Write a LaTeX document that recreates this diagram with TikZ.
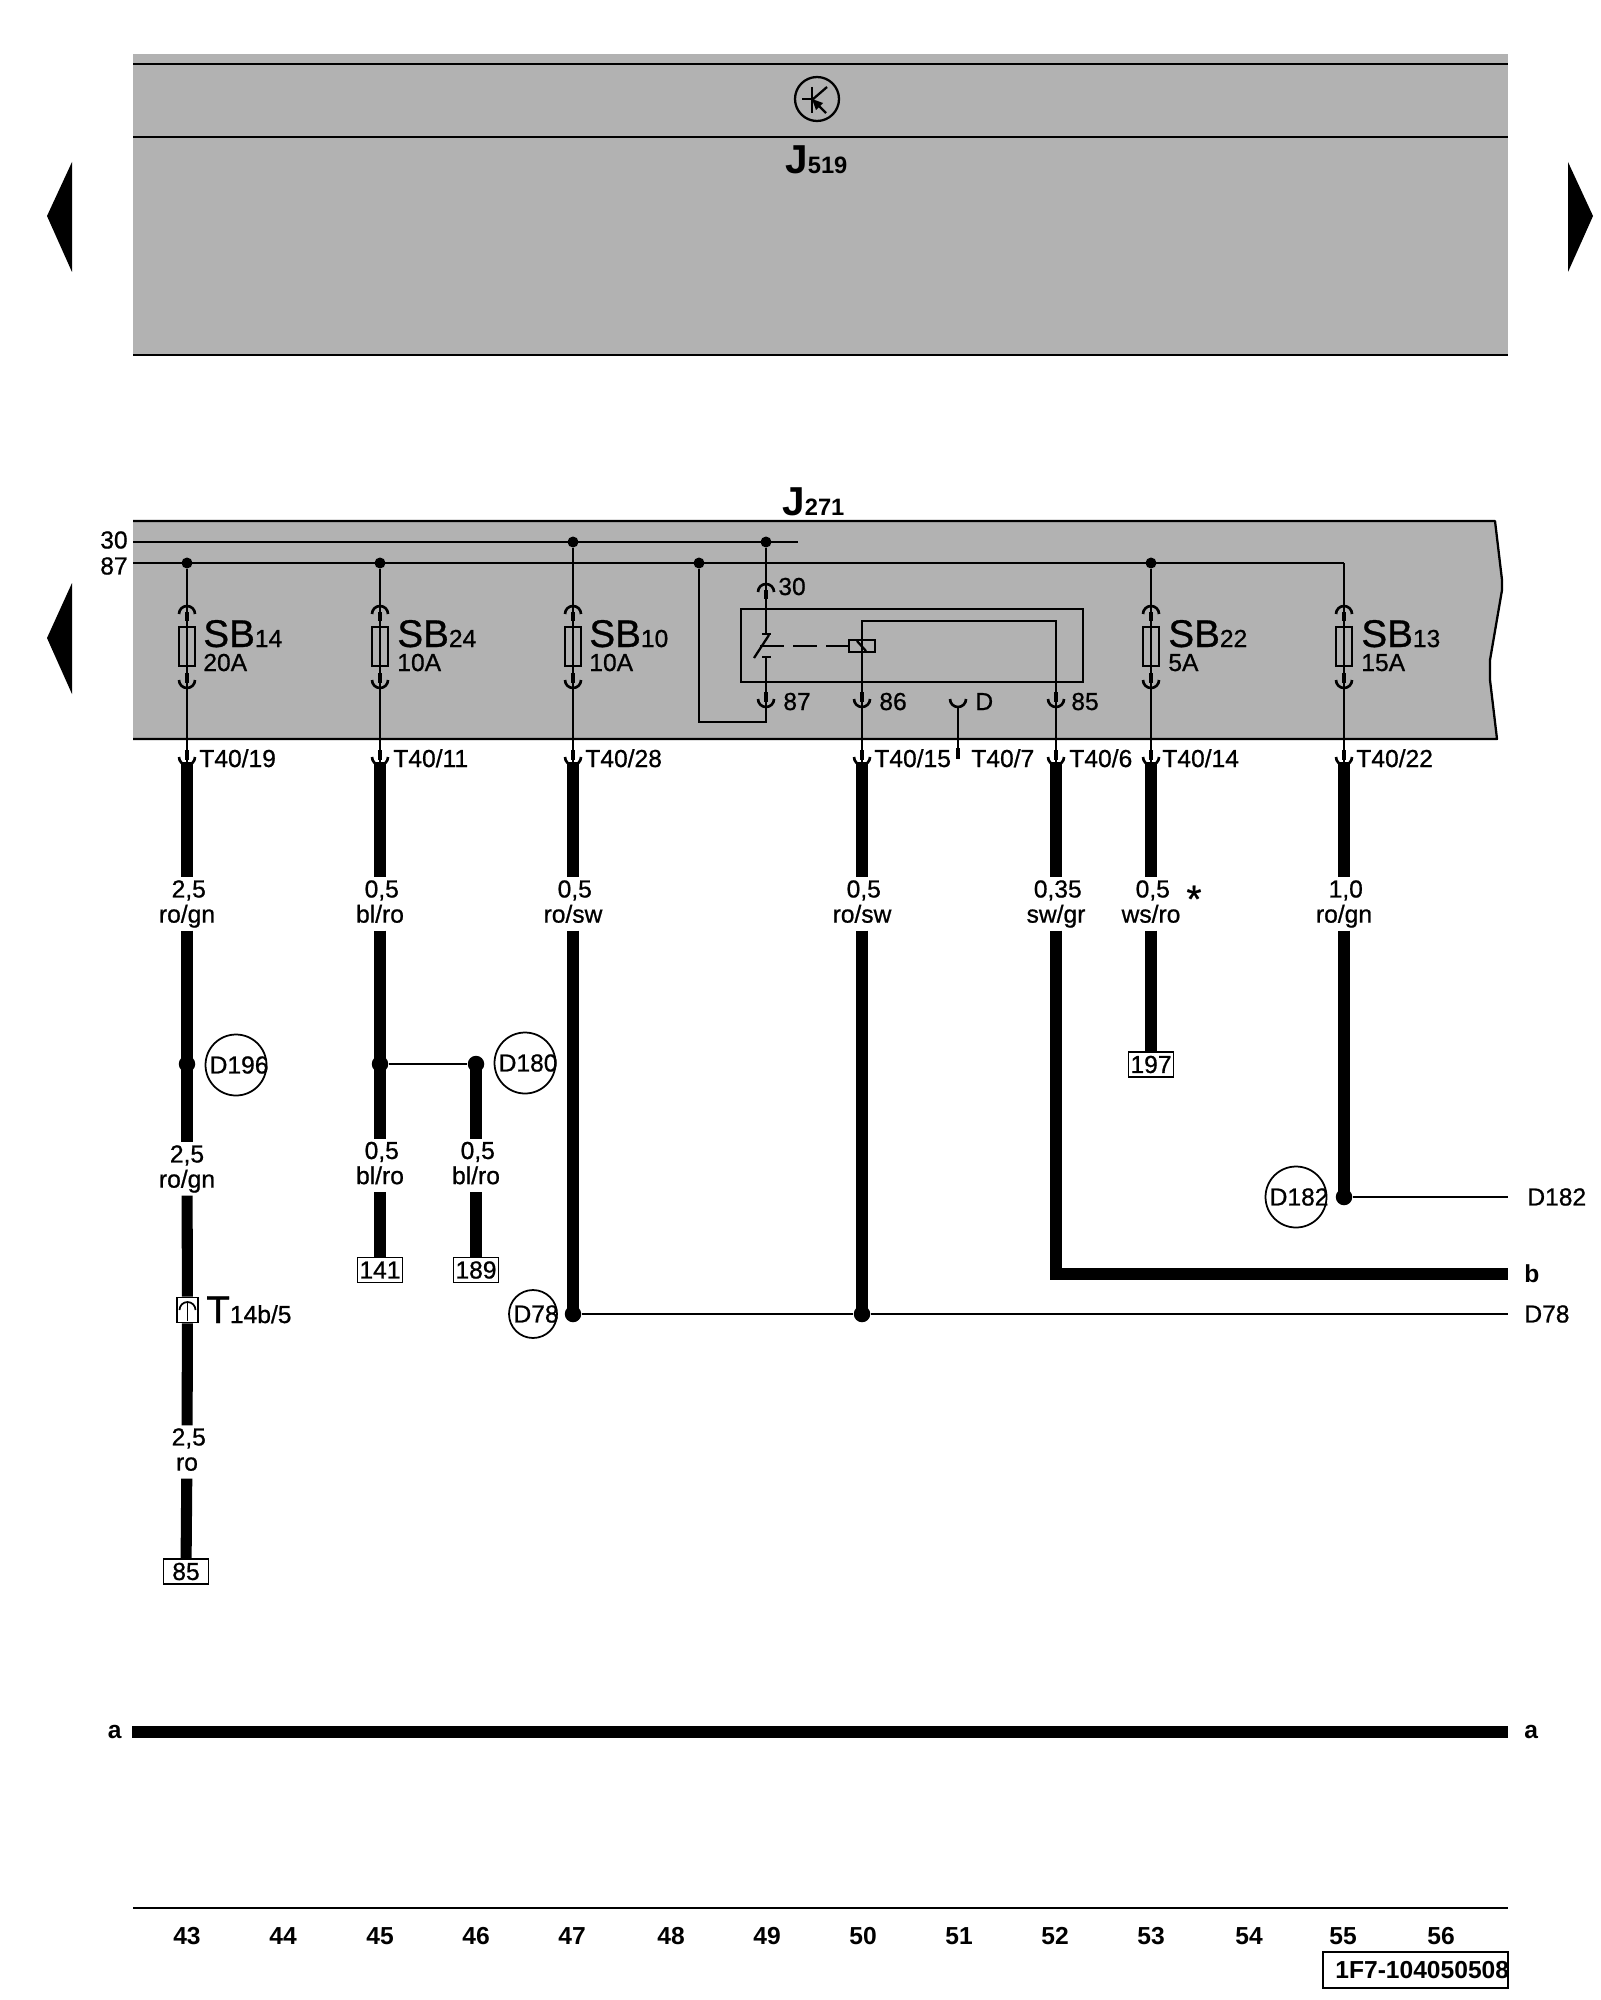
\documentclass[tikz,border=0pt]{standalone}
\usepackage{fontspec}
\setmainfont[UprightFeatures={FakeBold=0.8}]{Liberation Sans}
\usepackage{tikz}

\definecolor{panelgray}{HTML}{B2B2B2}
\newcommand{\labelfont}{\fontsize{14}{14.3}\selectfont}
\newcommand{\bigfont}{\fontsize{22}{22}\selectfont}
\newcommand{\nudge}{\hspace*{2pt}}
\newcommand{\spottext}[1]{\makebox[0pt]{\hspace{3.5pt}#1}}

\begin{document}
\begin{tikzpicture}[
  x=0.02cm, y=-0.02cm,
  line/.style={draw=black, line width=1.3pt},
  thinline/.style={draw=black, line width=1pt},
  wire/.style={draw=black, line width=6.3pt},
  dot/.style={circle, fill=black, inner sep=0pt, minimum size=0.22cm},
  bigdot/.style={circle, fill=black, inner sep=0pt, minimum size=0.33cm},
  fuse/.style={rectangle, draw=black, line width=1.3pt, inner sep=0pt, minimum width=0.32cm, minimum height=0.78cm},
  wirelabel/.style={fill=white, inner sep=0pt, minimum width=0.9cm, minimum height=1.05cm, align=center, font=\labelfont, execute at end node={\vphantom{g}}},
  pinlabel/.style={anchor=base west, inner sep=0pt, font=\labelfont},
  fuselabel/.style={anchor=base west, inner sep=0pt, font=\bigfont},
  ref/.style={rectangle, draw=black, fill=white, line width=1pt, inner sep=0pt, minimum width=0.9cm, minimum height=0.5cm, font=\labelfont},
  spot/.style={circle, draw=black, line width=1pt, inner sep=0pt, minimum size=1.22cm, font=\labelfont},
  endlabel/.style={anchor=west, inner xsep=0.32cm, inner ysep=0pt, font=\labelfont},
  colnum/.style={inner sep=0pt, font=\bfseries\labelfont},
  cupmark/.pic={
    \draw[line width=1.5pt] (-8,0) arc[start angle=180, end angle=0, radius=8];
    \draw[line width=2.6pt] (0,-7) -- (0,3);
  },
  capmark/.pic={
    \draw[line width=1.5pt] (-8,0) arc[start angle=180, end angle=360, radius=8];
    \draw[line width=2.6pt] (0,-2) -- (0,7);
  }
]
\useasboundingbox (0,0) rectangle (1600,2000);

% upper control unit
\fill[panelgray] (133,54) rectangle (1508,355);
\draw[line] (133,64) -- (1508,64);
\draw[line] (133,137) -- (1508,137);
\draw[line] (133,355) -- (1508,355);
\node[circle, draw=black, line width=1.3pt, inner sep=0pt, minimum size=0.88cm] (tr) at (817,99) {};
\draw[line] (812,87) -- (812,113);
\draw[line] (802,99) -- (812,99);
\draw[line] (812,100) -- (827,87);
\draw[line] (818,105) -- (826,113);
\fill (812,99) -- (823,103) -- (816,110) -- cycle;
\node[anchor=base west, inner sep=0pt] (j519) at (785,174) {\bfseries\fontsize{23}{23}\selectfont J\fontsize{13.5}{14}\selectfont 519};

% page arrows
\fill (72,162) -- (47,216) -- (72,272) -- cycle;
\fill (1568,162) -- (1593,216) -- (1568,272) -- cycle;
\fill (72,583) -- (47,638) -- (72,694) -- cycle;

% fuse carrier
\fill[panelgray] (133,521) -- (1495,521) -- (1502,580) -- (1502,590) -- (1490,660) -- (1490,680) -- (1497,739) -- (133,739) -- cycle;
\draw[line, line join=round] (133,521) -- (1495,521) -- (1502,580) -- (1502,590) -- (1490,660) -- (1490,680) -- (1497,739) -- (133,739);
\node[anchor=base west, inner sep=0pt] (j271) at (782,515) {\bfseries\fontsize{23}{23}\selectfont J\fontsize{13.5}{14}\selectfont 271};

% busbars
\node[anchor=east, inner sep=0pt, font=\labelfont] (b30) at (128,540) {30};
\node[anchor=east, inner sep=0pt, font=\labelfont] (b87) at (128,566) {87};
\coordinate (b30e) at (798,542);
\coordinate (b30s) at (133,542);
\coordinate (b87s) at (133,563);
\coordinate (b87e) at (1344,563);
\draw[line] (b30s) -- (b30e);
\draw[line] (b87s) -- (b87e);

\node[dot] (j43) at (187,563) {};
\node[dot] (j45) at (380,563) {};
\node[dot] (j47) at (573,542) {};
\node[dot] (j48) at (699,563) {};
\node[dot] (j49) at (766,542) {};
\node[dot] (j53) at (1151,563) {};

% pins
\coordinate (t19) at (187,762);
\coordinate (t11) at (380,762);
\coordinate (t28) at (573,762);
\coordinate (t15) at (862,762);
\coordinate (t6) at (1056,762);
\coordinate (t14) at (1151,762);
\coordinate (t22) at (1344,762);

\draw[line] (j43) -- (t19);
\draw[line] (j45) -- (t11);
\draw[line] (j47) -- (t28);
\draw[line] (j53) -- (t14);
\draw[line] (b87e) -- (t22);

% fuses
\node[fuse] (sb14) at (187,646.5) {};
\node[fuse] (sb24) at (380,646.5) {};
\node[fuse] (sb10) at (573,646.5) {};
\node[fuse] (sb22) at (1151,646.5) {};
\node[fuse] (sb13) at (1344,646.5) {};
\pic at (187,614) {capmark};
\pic at (380,614) {capmark};
\pic at (573,614) {capmark};
\pic at (1151,614) {capmark};
\pic at (1344,614) {capmark};
\pic at (187,680) {cupmark};
\pic at (380,680) {cupmark};
\pic at (573,680) {cupmark};
\pic at (1151,680) {cupmark};
\pic at (1344,680) {cupmark};

\node[fuselabel] (l14) at (203,647) {SB{\labelfont 14}};
\node[fuselabel] (l24) at (397,647) {SB{\labelfont 24}};
\node[fuselabel] (l10) at (589,647) {SB{\labelfont 10}};
\node[fuselabel] (l22) at (1168,647) {SB{\labelfont 22}};
\node[fuselabel] (l13) at (1361,647) {SB{\labelfont 13}};
\node[pinlabel] (a14) at (203,671) {20A};
\node[pinlabel] (a24) at (397,671) {10A};
\node[pinlabel] (a10) at (589,671) {10A};
\node[pinlabel] (a22) at (1168,671) {5A};
\node[pinlabel] (a13) at (1361,671) {15A};

% relay
\node[rectangle, draw=black, line width=1.3pt, inner sep=0pt, minimum width=6.84cm, minimum height=1.46cm] (relay) at (912,645.5) {};
\coordinate (cs1) at (766,634);
\coordinate (cs2) at (766,657);
\coordinate (r87) at (766,722);
\coordinate (r85) at (1056,621);
\draw[line] (j49) -- (cs1);
\draw[line] (cs2) -- (r87) -| (j48);
\draw[line] (762,634) -- (771,634);
\draw[line] (762,657) -- (771,657);
\draw[line] (754,658) -- (769,635);
\draw[line] (760,646) -- (784,646);
\draw[line] (793,646) -- (817,646);
\draw[line] (826,646) -- (849,646);
\node[rectangle, draw=black, line width=1.3pt, inner sep=0pt, minimum width=0.52cm, minimum height=0.24cm] (coil) at (862,646) {};
\draw[line] (857,641) -- (866,651);
\draw[line] (t15) |- (r85) -- (t6);
\pic at (766,592) {capmark};
\pic at (766,699) {cupmark};
\pic at (862,699) {cupmark};
\pic at (1056,699) {cupmark};
\draw[line width=1.5pt] (950,699) arc[start angle=180, end angle=0, radius=8];
\coordinate (pd) at (958,707);
\coordinate (t7) at (958,748);
\coordinate (t7e) at (958,759);
\draw[line] (pd) -- (t7);
\draw[line width=2.6pt] (t7) -- (t7e);
\node[pinlabel] (n30) at (778,595) {30};
\node[pinlabel] (n87) at (783,710) {87};
\node[pinlabel] (n86) at (879,710) {86};
\node[pinlabel] (nd) at (975,710) {D};
\node[pinlabel] (n85) at (1071,710) {85};

% wires
\node[wirelabel] (w19) at (187,904) {\nudge 2,5\\ro/gn};
\node[wirelabel] (w11) at (380,904) {\nudge 0,5\\bl/ro};
\node[wirelabel] (w28) at (573,904) {\nudge 0,5\\ro/sw};
\node[wirelabel] (w15) at (862,904) {\nudge 0,5\\ro/sw};
\node[wirelabel] (w6) at (1056,904) {\nudge 0,35\\sw/gr};
\node[wirelabel] (w14) at (1151,904) {\nudge 0,5\\ws/ro};
\node[wirelabel] (w22) at (1344,904) {\nudge 1,0\\ro/gn};
\node[wirelabel] (w19b) at (187,1169) {2,5\\ro/gn};
\node[wirelabel] (w19c) at (187,1452) {\nudge 2,5\\ro};
\node[wirelabel] (w11b) at (380,1165.5) {\nudge 0,5\\bl/ro};
\node[wirelabel] (w46) at (476,1165.5) {\nudge 0,5\\bl/ro};
\node[font=\bigfont, inner sep=0pt] (star) at (1194,899) {*};

\node[ref] (r141) at (380,1270) {141};
\node[ref] (r189) at (476,1270) {189};
\node[ref] (r197) at (1151,1064.5) {197};
\node[ref] (r85b) at (186,1571.5) {85};
\node[rectangle, draw=black, fill=white, line width=1pt, inner sep=0pt, minimum width=0.42cm, minimum height=0.5cm] (t14b) at (187.5,1310) {};

\node[bigdot] (j19) at (187,1064) {};
\node[bigdot] (j24) at (380,1064) {};
\node[bigdot] (j46) at (476,1064) {};
\node[bigdot] (j78a) at (573,1314) {};
\node[bigdot] (j78b) at (862,1314) {};
\node[bigdot] (j182) at (1344,1197) {};
\coordinate (bend) at (1056,1274);
\node[endlabel, font=\bfseries\labelfont] (lb) at (1508,1274) {b};
\node[endlabel] (l78) at (1508,1314) {D78};
\node[endlabel, inner xsep=0.38cm] (l182) at (1508,1197) {D182};

\draw[wire] (t19) -- (w19);
\draw[wire] (w19) -- (w19b);
\draw[wire] (w19b) -- (t14b);
\draw[wire] (t14b) -- (w19c);
\draw[wire] (w19c) -- (r85b);
\draw[wire] (t11) -- (w11);
\draw[wire] (w11) -- (w11b);
\draw[wire] (w11b) -- (r141);
\draw[wire] (j46.center) -- (w46);
\draw[wire] (w46) -- (r189);
\draw[thinline] (j24) -- (j46);
\draw[wire] (t28) -- (w28);
\draw[wire] (w28) -- (j78a.center);
\draw[wire] (t15) -- (w15);
\draw[wire] (w15) -- (j78b.center);
\draw[thinline] (j78a) -- (j78b) -- (l78);
\draw[wire] (t6) -- (w6);
\draw[wire] (w6) -- (bend) -- (lb);
\draw[wire] (t14) -- (w14);
\draw[wire] (w14) -- (r197);
\draw[wire] (t22) -- (w22);
\draw[wire] (w22) -- (j182.center);
\draw[thinline] (j182) -- (l182);

% T40 pins
\pic at (187,757) {cupmark};
\pic at (380,757) {cupmark};
\pic at (573,757) {cupmark};
\pic at (862,757) {cupmark};
\pic at (1056,757) {cupmark};
\pic at (1151,757) {cupmark};
\pic at (1344,757) {cupmark};
\node[pinlabel] (p19) at (199,767) {T40/19};
\node[pinlabel] (p11) at (393,767) {T40/11};
\node[pinlabel] (p28) at (585,767) {T40/28};
\node[pinlabel] (p15) at (874,767) {T40/15};
\node[pinlabel] (p7) at (971,767) {T40/7};
\node[pinlabel] (p6) at (1069,767) {T40/6};
\node[pinlabel] (p14) at (1162,767) {T40/14};
\node[pinlabel] (p22) at (1356,767) {T40/22};

% coupling T14b
\draw[line width=1pt] (179.5,1310) arc[start angle=180, end angle=360, radius=8];
\draw[line width=1pt] (187.5,1302) -- (187.5,1321);
\node[fuselabel] (tl) at (206,1323) {T{\labelfont 14b/5}};

% spots
\node[spot] (d196) at (236,1065) {\spottext{D196}};
\node[spot] (d180) at (525,1063) {\spottext{D180}};
\node[spot, minimum size=0.96cm] (d78) at (533,1314) {\spottext{D78}};
\node[spot] (d182) at (1296,1197) {\spottext{D182}};

% ground bar
\node[anchor=east, inner xsep=0.2cm, inner ysep=0pt, font=\bfseries\labelfont] (al) at (132,1732) {a};
\node[endlabel, font=\bfseries\labelfont] (ar) at (1508,1732) {a};
\draw[wire] (al) -- (ar);

% column numbers
\coordinate (rl) at (133,1908);
\coordinate (rr) at (1508,1908);
\draw[line] (rl) -- (rr);
\node[colnum] (c43) at (187,1936) {43};
\node[colnum] (c44) at (283,1936) {44};
\node[colnum] (c45) at (380,1936) {45};
\node[colnum] (c46) at (476,1936) {46};
\node[colnum] (c47) at (572,1936) {47};
\node[colnum] (c48) at (671,1936) {48};
\node[colnum] (c49) at (767,1936) {49};
\node[colnum] (c50) at (863,1936) {50};
\node[colnum] (c51) at (959,1936) {51};
\node[colnum] (c52) at (1055,1936) {52};
\node[colnum] (c53) at (1151,1936) {53};
\node[colnum] (c54) at (1249,1936) {54};
\node[colnum] (c55) at (1343,1936) {55};
\node[colnum] (c56) at (1441,1936) {56};
\node[rectangle, draw=black, line width=1.3pt, inner sep=0pt, minimum width=3.7cm, minimum height=0.72cm] (stamp) at (1415.5,1970) {};
\node[anchor=base west, inner sep=0pt, font=\bfseries\fontsize{14}{14}\selectfont] (code) at (1335,1978) {1F7-104050508};
\end{tikzpicture}
\end{document}
